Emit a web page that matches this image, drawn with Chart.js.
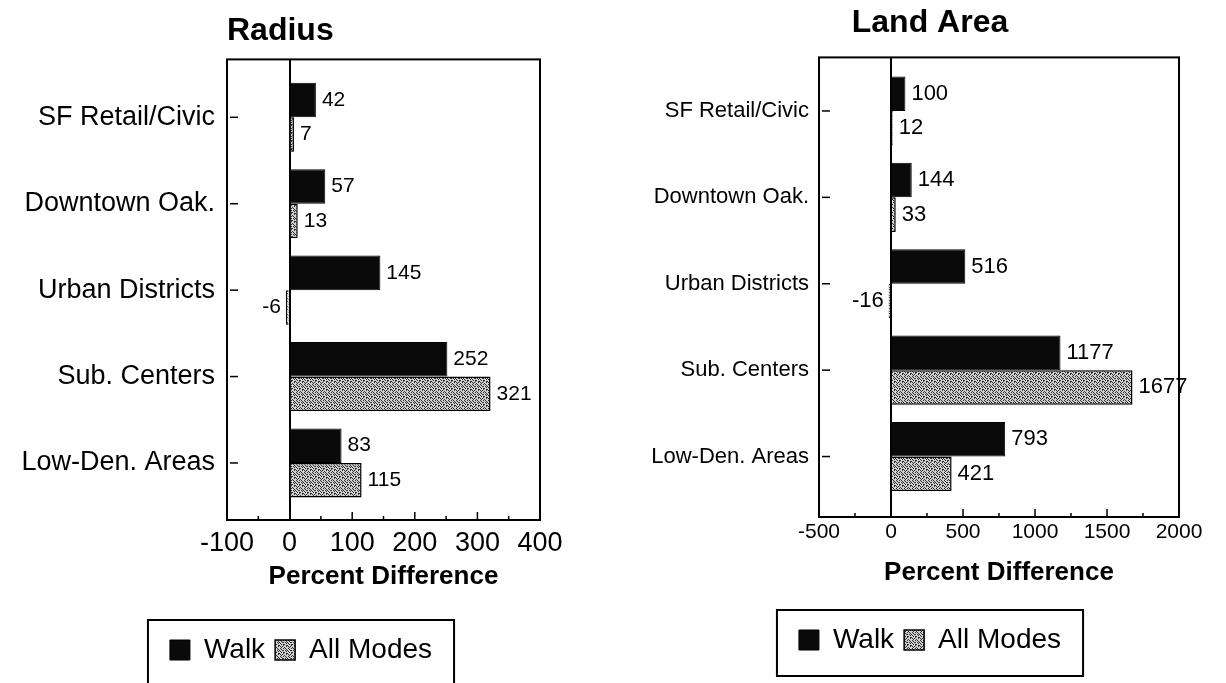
<!DOCTYPE html>
<html><head><meta charset="utf-8">
<script src="https://cdn.jsdelivr.net/npm/chart.js@4.4.0/dist/chart.umd.min.js"></script>
<style>
html,body{margin:0;padding:0;background:#fff;overflow:hidden;width:1226px;height:683px}
canvas{position:absolute;top:0}
</style></head><body>
<canvas id="c1" width="602" height="683" style="left:0"></canvas>
<canvas id="c2" width="580" height="683" style="left:640px"></canvas>
<script>
const categories = ['SF Retail/Civic', 'Downtown Oak.', 'Urban Districts', 'Sub. Centers', 'Low-Den. Areas'];
const seriesNames = ['Walk', 'All Modes'];
const radiusWalk = [42, 57, 145, 252, 83];
const radiusAll = [7, 13, -6, 321, 115];
const landWalk = [100, 144, 516, 1177, 793];
const landAll = [12, 33, -16, 1677, 421];
const radiusTicks = [-100, 0, 100, 200, 300, 400];
const landTicks = [-500, 0, 500, 1000, 1500, 2000];
const axisTitle = 'Percent Difference';

const FAMILY = "'Liberation Sans', Arial, Helvetica, sans-serif";
Chart.defaults.font.family = FAMILY;
Chart.defaults.color = '#000';

function makePattern() {
  const t = document.createElement('canvas');
  t.width = 8; t.height = 8;
  const g = t.getContext('2d');
  g.fillStyle = '#d2d2d2'; g.fillRect(0, 0, 8, 8);
  const rows = ['x..x.x..', '.x....x.', '..xx.x.x', 'x.....x.', '.x.xx...', '...x..xx', 'x.x...x.', '.x..x...'];
  g.fillStyle = '#2a2a2a';
  rows.forEach((r, y) => [...r].forEach((c, x) => { if (c === 'x') g.fillRect(x, y, 1, 1); }));
  return g.createPattern(t, 'repeat');
}
const pattern = makePattern();

const decor = {
  id: 'decor',
  afterDatasetsDraw(chart, args, o) {
    const ctx = chart.ctx, a = chart.chartArea, xs = chart.scales.x, ys = chart.scales.y;
    ctx.save();
    ctx.strokeStyle = '#000';
    ctx.lineWidth = 2;
    ctx.strokeRect(a.left, a.top, a.right - a.left, a.bottom - a.top);
    ctx.lineWidth = 1.5;
    const t = o.ticks, half = (t[1] - t[0]) / 2;
    for (let k = 1; k < (t.length - 1) * 2; k++) {
      const v = t[0] + k * half;
      if (v === 0) continue;
      const px = xs.getPixelForValue(v);
      const len = k % 2 === 0 ? 8 : 4;
      ctx.beginPath(); ctx.moveTo(px, a.bottom); ctx.lineTo(px, a.bottom - len); ctx.stroke();
    }
    ys.ticks.forEach(tk => {
      const py = ys.getPixelForValue(tk.value);
      ctx.beginPath(); ctx.moveTo(a.left + 3, py); ctx.lineTo(a.left + 11, py); ctx.stroke();
    });
    ctx.font = o.valFont;
    ctx.fillStyle = '#000';
    ctx.textBaseline = 'middle';
    chart.data.datasets.forEach((ds, i) => {
      chart.getDatasetMeta(i).data.forEach((bar, j) => {
        const v = ds.data[j].x;
        if (v < 0) { ctx.textAlign = 'right'; ctx.fillText(String(v), bar.x - 5, bar.y); }
        else { ctx.textAlign = 'left'; ctx.fillText(String(v), bar.x + 6, bar.y); }
      });
    });
    ctx.restore();
  },
  afterDraw(chart) {
    const hb = chart.legend.legendHitBoxes;
    if (!hb || !hb.length) return;
    const ctx = chart.ctx;
    const l = Math.min(...hb.map(h => h.left));
    const r = Math.max(...hb.map(h => h.left + h.width));
    const cy = hb[0].top + hb[0].height / 2;
    ctx.save();
    ctx.strokeStyle = '#000'; ctx.lineWidth = 2;
    ctx.strokeRect(l - 22, cy - 30, r - l + 44, 66);
    ctx.restore();
  }
};

function build(id, c) {
  return new Chart(document.getElementById(id), {
    type: 'bar',
    data: {
      datasets: [
        { label: seriesNames[0], data: categories.map((n, i) => ({ x: c.walk[i], y: i })),
          backgroundColor: '#0a0a0a', borderColor: '#000', borderWidth: 1 },
        { label: seriesNames[1], data: categories.map((n, i) => ({ x: c.all[i], y: i })),
          backgroundColor: pattern, borderColor: '#000', borderWidth: 1.5 }
      ]
    },
    options: {
      indexAxis: 'y',
      responsive: false,
      animation: false,
      categoryPercentage: 0.8,
      barPercentage: 1.0,
      layout: { padding: { left: 0, right: 0, top: 0, bottom: c.padBottom } },
      scales: {
        y: {
          type: 'linear', reverse: true, min: c.yMin, max: c.yMax, offset: false,
          afterBuildTicks: s => { s.ticks = categories.map((n, i) => ({ value: i })); },
          afterFit: s => { s.width = c.yWidth; },
          grid: { display: false, drawTicks: false, offset: false },
          border: { display: false },
          ticks: { autoSkip: false, padding: c.yPad, color: '#000', font: { size: c.catFont },
                    callback: v => categories[v] }
        },
        x: {
          type: 'linear', min: c.ticks[0], max: c.ticks[c.ticks.length - 1],
          afterBuildTicks: s => { s.ticks = c.ticks.map(v => ({ value: v })); },
          afterFit: s => { s.height = c.xH; s.paddingRight = c.rightGap; s.paddingLeft = 0; },
          grid: { drawTicks: false, lineWidth: 2,
                  color: ctx => (ctx.tick && ctx.tick.value === 0) ? '#000' : 'rgba(0,0,0,0)' },
          border: { display: false },
          ticks: { autoSkip: false, maxRotation: 0, padding: c.tickPad, color: '#000',
                   font: { size: c.tickFont }, callback: (v, i) => String(c.ticks[i]) },
          title: { display: true, text: axisTitle, color: '#000',
                   font: { size: 26, weight: 'bold' }, padding: { top: 0, bottom: c.xTitlePadB } }
        }
      },
      plugins: {
        title: { display: true, text: c.title, color: '#000', fullSize: c.titleFull, align: c.titleAlign,
                 font: { size: 32, weight: 'bold' }, padding: c.titlePad },
        legend: { position: 'bottom',
                  labels: { color: '#000', boxWidth: 20, boxHeight: 20, padding: 10, font: { size: 28 } } },
        tooltip: { enabled: false },
        decor: { ticks: c.ticks, valFont: c.valFont }
      }
    },
    plugins: [decor]
  });
}

build('c1', {
  walk: radiusWalk, all: radiusAll, ticks: radiusTicks, title: 'Radius',
  titleFull: false, titleAlign: 'start', titlePad: { top: 12, bottom: 9 },
  yWidth: 227, yPad: 12, yMin: -0.67, yMax: 4.66, catFont: 27,
  tickFont: 27, tickPad: 7, xH: 106, xTitlePadB: 34,
  valFont: "21px " + FAMILY, rightGap: 62, padBottom: 9
});
build('c2', {
  walk: landWalk, all: landAll, ticks: landTicks, title: 'Land Area',
  titleFull: true, titleAlign: 'center', titlePad: { top: 4, bottom: 15 },
  yWidth: 179, yPad: 10, yMin: -0.62, yMax: 4.70, catFont: 22,
  tickFont: 21, tickPad: 3, xH: 99, xTitlePadB: 28,
  valFont: "22px " + FAMILY, rightGap: 41, padBottom: 19
});
</script>
</body></html>
